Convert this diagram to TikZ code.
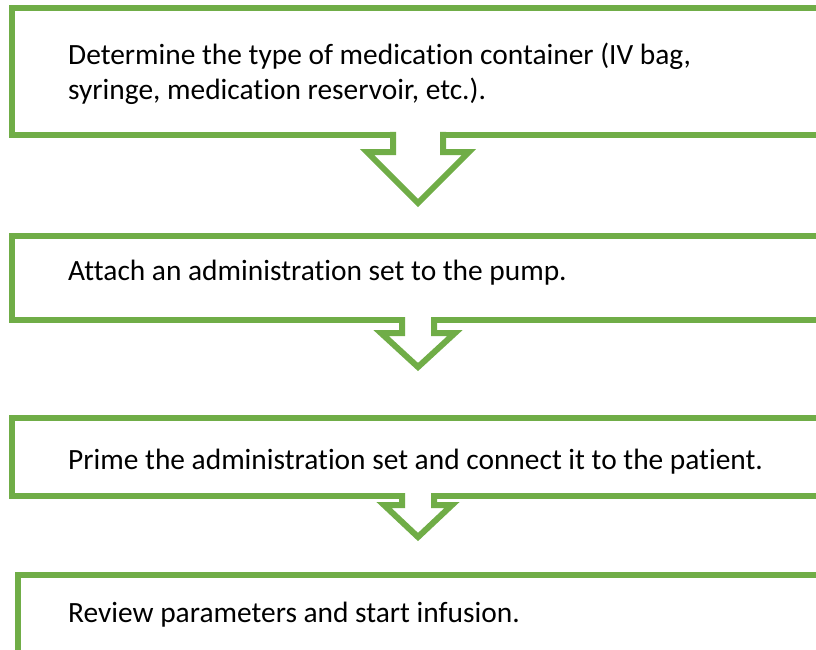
\documentclass[tikz,border=0pt]{standalone}
\usepackage{fontspec}
\setmainfont[Ligatures=NoCommon]{Carlito}
\definecolor{grn}{HTML}{70AD47}
\begin{document}
\begin{tikzpicture}[x=1pt,y=-1pt,
  stepbox/.style={draw=grn, line width=6pt, fill=white, inner sep=0pt, outer sep=0pt, rectangle},
  steptext/.style={anchor=base west, inner sep=0pt, font=\fontsize{29.4}{35}\selectfont},
  arrowline/.style={draw=grn, line width=6pt, miter limit=10}]
\useasboundingbox (0,0) rectangle (816,650);
\clip (0,0) rectangle (816,650);
% boxes
\node[stepbox, minimum width=818pt, minimum height=127pt] (b1) at (421,71.5) {};
\node[stepbox, minimum width=818pt, minimum height=84pt] (b2) at (421,278) {};
\node[stepbox, minimum width=818pt, minimum height=78pt] (b3) at (421,457) {};
\node[stepbox, minimum width=812pt, minimum height=115pt] (b4) at (424,632.5) {};
% texts
\node[steptext] (t1a) at (68,65) {Determine the type of medication container (IV bag,};
\node[steptext] (t1b) at (68,100) {syringe, medication reservoir, etc.).};
\node[steptext] (t2) at (68,280) {Attach an administration set to the pump.};
\node[steptext] (t3) at (68,469) {Prime the administration set and connect it to the patient.};
\node[steptext] (t4) at (68,622) {Review parameters and start infusion.};
% arrow 1
\fill[white] (393,131) -- (393,152) -- (367,152) -- (418,203) -- (469,152) -- (443,152) -- (443,131) -- cycle;
\draw[arrowline] (393,132) -- (393,152) -- (367,152) -- (418,203) -- (469,152) -- (443,152) -- (443,132);
% arrow 2
\fill[white] (402,316) -- (402,333) -- (381,333) -- (418,367) -- (455,333) -- (434,333) -- (434,316) -- cycle;
\draw[arrowline] (402,317) -- (402,333) -- (381,333) -- (418,367) -- (455,333) -- (434,333) -- (434,317);
% arrow 3
\fill[white] (402,492) -- (402,505) -- (384,505) -- (418,537) -- (452,505) -- (434,505) -- (434,492) -- cycle;
\draw[arrowline] (402,493) -- (402,505) -- (384,505) -- (418,537) -- (452,505) -- (434,505) -- (434,493);
\end{tikzpicture}
\end{document}
